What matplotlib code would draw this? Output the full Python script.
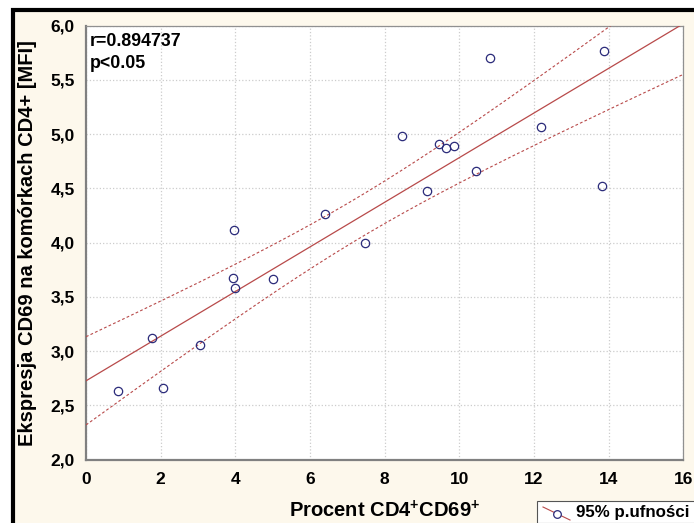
import numpy as np
import matplotlib
matplotlib.use("Agg")
import matplotlib.pyplot as plt
from matplotlib.patches import Rectangle
from matplotlib.lines import Line2D

plt.rcParams['font.family'] = ['Liberation Sans', 'DejaVu Sans']
plt.rcParams['mathtext.fontset'] = 'custom'
plt.rcParams['mathtext.rm'] = 'Liberation Sans:bold'
plt.rcParams['mathtext.bf'] = 'Liberation Sans:bold'

# data
procent_cd4_cd69 = [0.85, 1.77, 2.06, 3.06, 3.96, 3.93, 3.99, 5.02, 6.40, 7.48,
                    8.47, 9.46, 9.65, 9.86, 9.13, 10.46, 10.82, 12.20, 13.83, 13.88]
ekspresja_mfi = [2.63, 3.12, 2.66, 3.06, 4.12, 3.67, 3.58, 3.66, 4.26, 4.00,
                 4.98, 4.91, 4.87, 4.89, 4.48, 4.66, 5.70, 5.07, 4.52, 5.77]
x_ticks = [0, 2, 4, 6, 8, 10, 12, 14, 16]
y_ticks = [2.0, 2.5, 3.0, 3.5, 4.0, 4.5, 5.0, 5.5, 6.0]
y_tick_labels = ['2,0', '2,5', '3,0', '3,5', '4,0', '4,5', '5,0', '5,5', '6,0']
stat_text = "r=0.894737\np<0.05"
legend_text = "95% p.ufności"

W, H = 694, 523
fig = plt.figure(figsize=(W / 100, H / 100), dpi=100)
fig.patch.set_facecolor('white')

cream = '#FDF8EC'
# cream background and thick black frame
fig.patches.append(Rectangle((13 / W, 0), 1, 1 - 10 / H, transform=fig.transFigure,
                             facecolor=cream, edgecolor='none', zorder=-10))
fig.lines.append(Line2D([13 / W, 13 / W, 1.0], [0, 1 - 10 / H, 1 - 10 / H],
                        transform=fig.transFigure, color='black', linewidth=3.0,
                        solid_joinstyle='miter', zorder=5))

ax = fig.add_axes([86 / W, 1 - 459.6 / H, (683.3 - 86) / W, (459.6 - 25.6) / H])
ax.set_facecolor('white')

x = np.array(procent_cd4_cd69)
y = np.array(ekspresja_mfi)
n = len(x)
b, a = np.polyfit(x, y, 1)
xs = np.linspace(0, 16, 200)
yh = a + b * xs
resid = y - (a + b * x)
s = np.sqrt(np.sum(resid ** 2) / (n - 2))
sxx = np.sum((x - x.mean()) ** 2)
t = 2.1009
hw = t * s * np.sqrt(1 / n + (xs - x.mean()) ** 2 / sxx)

line_col = '#B84A4A'
ax.plot(xs, yh, color=line_col, linewidth=0.9, zorder=3)
ax.plot(xs, yh + hw, color=line_col, linewidth=0.8, dashes=(2.5, 2), zorder=3)
ax.plot(xs, yh - hw, color=line_col, linewidth=0.8, dashes=(2.5, 2), zorder=3)
ax.plot(x, y, linestyle='none', marker='o', markersize=6, markerfacecolor='none',
        markeredgecolor='#2B2B7A', markeredgewidth=0.9, zorder=4)

ax.set_xlim(0, 16)
ax.set_ylim(2.0, 6.0)
ax.set_xticks(x_ticks)
ax.set_yticks(y_ticks)
ax.set_yticklabels(y_tick_labels)
ax.grid(True, color='#CCCCCC', linestyle=':', linewidth=0.9)
ax.set_axisbelow(True)
ax.tick_params(axis='both', length=0, labelsize=12.5)
ax.tick_params(axis='y', pad=8)
ax.tick_params(axis='x', pad=9)
for lab in ax.get_xticklabels() + ax.get_yticklabels():
    lab.set_fontweight('bold')
for side in ['left', 'bottom']:
    ax.spines[side].set_color('#808080')
    ax.spines[side].set_linewidth(1.6)
for side in ['top', 'right']:
    ax.spines[side].set_color('#909090')
    ax.spines[side].set_linewidth(0.9)

ax.set_xlabel(r"Procent CD4$^{+}$CD69$^{+}$", fontsize=14.5, fontweight='bold', labelpad=9)
ax.set_ylabel("Ekspresja CD69 na komórkach CD4+ [MFI]", fontsize=14.5,
              fontweight='bold', labelpad=10)

ax.text(0.007, 0.983, stat_text, transform=ax.transAxes, ha='left', va='top',
        fontsize=12.8, fontweight='bold', linespacing=1.35)

# legend box (partly cut at the right edge)
fig.patches.append(Rectangle((537 / W, 0), 1, 1 - 501 / H, transform=fig.transFigure,
                             facecolor='white', edgecolor='#555555', linewidth=0.8,
                             zorder=6))
fig.lines.append(Line2D([543 / W, 570 / W], [1 - 507 / H, 1 - 520 / H],
                        transform=fig.transFigure, color=line_col, linewidth=0.8,
                        zorder=7))
fig.lines.append(Line2D([557 / W], [1 - 513.5 / H], transform=fig.transFigure,
                        marker='o', markersize=5.5, markerfacecolor='white',
                        markeredgecolor='#2B2B7A', markeredgewidth=0.9, zorder=8))
fig.text(576 / W, 1 - 513 / H, legend_text, ha='left', va='center', fontsize=12.2,
         fontweight='bold', zorder=9)

fig.savefig("out.png", dpi=100, facecolor=fig.get_facecolor())
